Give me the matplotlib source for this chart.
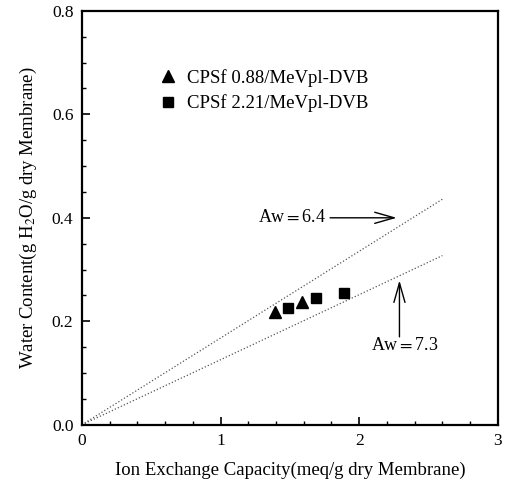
import matplotlib
matplotlib.use("Agg")
import matplotlib.pyplot as plt
import numpy as np

plt.rcParams['font.family'] = ['Liberation Serif', 'DejaVu Serif']
plt.rcParams['mathtext.fontset'] = 'stix'

# data
iec_tri = [1.39, 1.59]
wc_tri = [0.218, 0.238]
iec_sq = [1.49, 1.69, 1.89]
wc_sq = [0.226, 0.246, 0.254]

# Aw fit lines (start / end)
line_x = [0.0, 2.6]
line_64 = [0.0, 0.436]
line_73 = [0.0, 0.327]

fig = plt.figure(figsize=(5.05, 4.9), dpi=100)
ax = fig.add_axes([0.162, 0.133, 0.824, 0.845])

ax.plot(line_x, line_64, ':', color='#555555', lw=0.9)
ax.plot(line_x, line_73, ':', color='#555555', lw=0.9)
ax.plot(iec_tri, wc_tri, 'k^', ms=8, label="CPSf 0.88/MeVpl-DVB")
ax.plot(iec_sq, wc_sq, 'ks', ms=7.5, label="CPSf 2.21/MeVpl-DVB")

arrow = dict(arrowstyle='->,head_length=0.7,head_width=0.2', color='k', lw=1.0,
             mutation_scale=20, shrinkA=0, shrinkB=0)
ax.annotate("", xy=(2.27, 0.40), xytext=(1.79, 0.40), arrowprops=arrow)
ax.text(1.76, 0.40, "Aw$=$6.4", ha='right', va='center', fontsize=13)
ax.annotate("", xy=(2.29, 0.279), xytext=(2.29, 0.17), arrowprops=arrow)
ax.text(2.33, 0.153, "Aw$=$7.3", ha='center', va='center', fontsize=13)

ax.legend(loc='upper left', bbox_to_anchor=(0.148, 0.90), frameon=False,
          fontsize=13.5, handlelength=0.8, handletextpad=0.6, labelspacing=0.4,
          numpoints=1)

ax.set_xlim(0, 3)
ax.set_ylim(0, 0.8)
ax.set_xticks([0, 1, 2, 3])
ax.set_yticks([0.0, 0.2, 0.4, 0.6, 0.8])
ax.set_yticklabels(["0.0", "0.2", "0.4", "0.6", "0.8"])
ax.set_xticks(np.arange(0, 3.01, 0.2), minor=True)
ax.set_yticks(np.arange(0, 0.801, 0.05), minor=True)
ax.tick_params(direction='in', which='major', length=6, width=1.2, labelsize=12.5, pad=6)
ax.tick_params(direction='in', which='minor', length=3, width=1)
for s in ax.spines.values():
    s.set_linewidth(1.6)

ax.set_xlabel("Ion Exchange Capacity(meq/g dry Membrane)", fontsize=13.5, labelpad=9)
ax.set_ylabel("Water Content(g H$_2$O/g dry Membrane)", fontsize=13.5, labelpad=9)

fig.savefig("out.png", dpi=100)
